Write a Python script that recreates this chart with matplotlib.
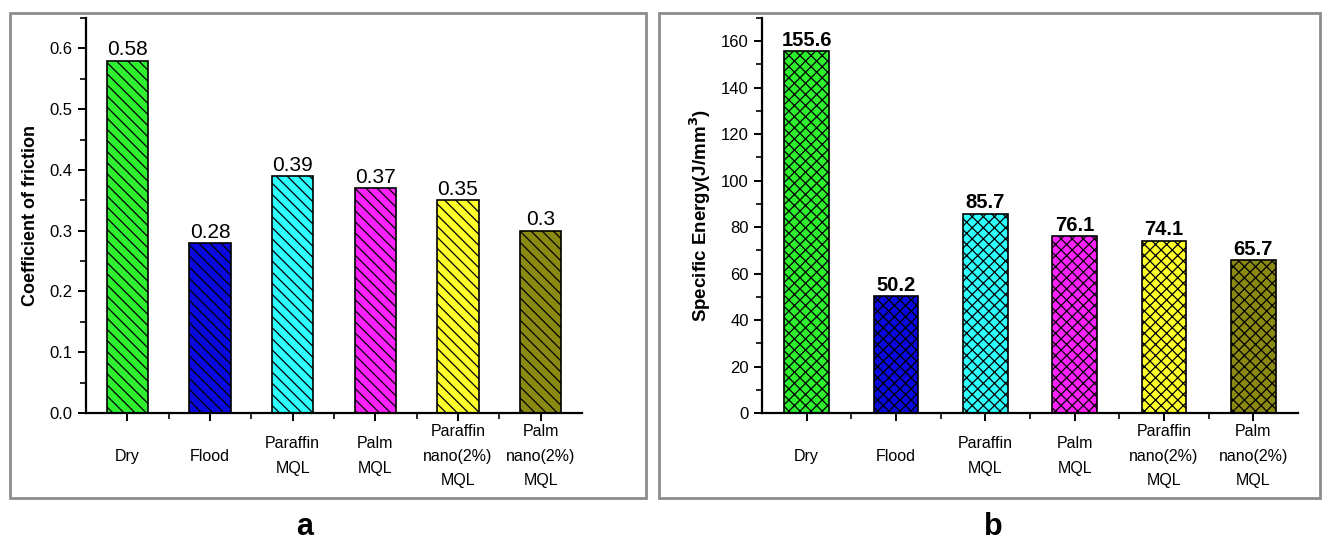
import matplotlib.pyplot as plt
from matplotlib.patches import Rectangle
from matplotlib.ticker import MultipleLocator, FixedLocator, FormatStrFormatter

plt.rcParams['font.family'] = ['Liberation Sans', 'DejaVu Sans']
plt.rcParams['hatch.linewidth'] = 0.9

categories = ['Dry', 'Flood', 'Paraffin\nMQL', 'Palm\nMQL',
              'Paraffin\nnano(2%)\nMQL', 'Palm\nnano(2%)\nMQL']
friction = [0.58, 0.28, 0.39, 0.37, 0.35, 0.30]
friction_labels = ['0.58', '0.28', '0.39', '0.37', '0.35', '0.3']
energy = [155.6, 50.2, 85.7, 76.1, 74.1, 65.7]
colors = ['#2ef02e', '#0a0ae0', '#2effff', '#ff22ff', '#ffff2a', '#8a8a12']

W, H = 1322, 544
fig = plt.figure(figsize=(W / 100, H / 100), dpi=100)

# gray panel frames
for x0, x1 in [(10, 646), (659, 1320)]:
    fig.patches.append(Rectangle((x0 / W, 1 - 498 / H), (x1 - x0) / W, (498 - 13) / H,
                                 transform=fig.transFigure, fill=False,
                                 edgecolor='#8c8c8c', linewidth=2))

ax1 = fig.add_axes([86 / W, 1 - 413 / H, (582 - 86) / W, (413 - 18) / H])
ax2 = fig.add_axes([762 / W, 1 - 413 / H, (1298 - 762) / W, (413 - 18) / H])

x = list(range(1, len(categories) + 1))


def style(ax):
    for s in ['top', 'right']:
        ax.spines[s].set_visible(False)
    for s in ['left', 'bottom']:
        ax.spines[s].set_linewidth(1.6)
    ax.set_xlim(0.5, 6.5)
    ax.set_xticks(x)
    ax.set_xticklabels(categories, fontsize=11.5, linespacing=1.8, va='center')
    ax.xaxis.set_minor_locator(FixedLocator([1.5, 2.5, 3.5, 4.5, 5.5]))
    ax.tick_params(axis='both', which='major', direction='out', length=6, width=1.4, labelsize=12)
    ax.tick_params(axis='both', which='minor', direction='out', length=4, width=1.2)
    ax.tick_params(axis='x', which='major', labelsize=11.5, pad=25)


ax1.bar(x, friction, width=0.5, color=colors, edgecolor='black',
        linewidth=1.2, hatch='\\\\\\')
ax1.set_ylim(0, 0.65)
ax1.yaxis.set_major_locator(MultipleLocator(0.1))
ax1.yaxis.set_minor_locator(MultipleLocator(0.05))
ax1.yaxis.set_major_formatter(FormatStrFormatter('%.1f'))
style(ax1)
ax1.set_ylabel('Coefficient of friction', fontsize=13, fontweight='bold', labelpad=8)
for xi, v, t in zip(x, friction, friction_labels):
    ax1.text(xi, v + 0.002, t, ha='center', va='bottom', fontsize=15)

ax2.bar(x, energy, width=0.5, color=colors, edgecolor='black',
        linewidth=1.2, hatch='xxx')
ax2.set_ylim(0, 170)
ax2.yaxis.set_major_locator(MultipleLocator(20))
ax2.yaxis.set_minor_locator(MultipleLocator(10))
style(ax2)
ax2.set_ylabel('Specific Energy(J/mm$^\\mathbf{3}$)', fontsize=13.5, fontweight='bold', labelpad=6)
for xi, v in zip(x, energy):
    ax2.text(xi, v + 0.6, f'{v:.1f}', ha='center', va='bottom', fontsize=14.5, fontweight='bold')

fig.text(305 / W, 1 - 527 / H, 'a', ha='center', va='center', fontsize=22, fontweight='bold')
fig.text(993 / W, 1 - 527 / H, 'b', ha='center', va='center', fontsize=22, fontweight='bold')

fig.savefig('out.png', dpi=100)
